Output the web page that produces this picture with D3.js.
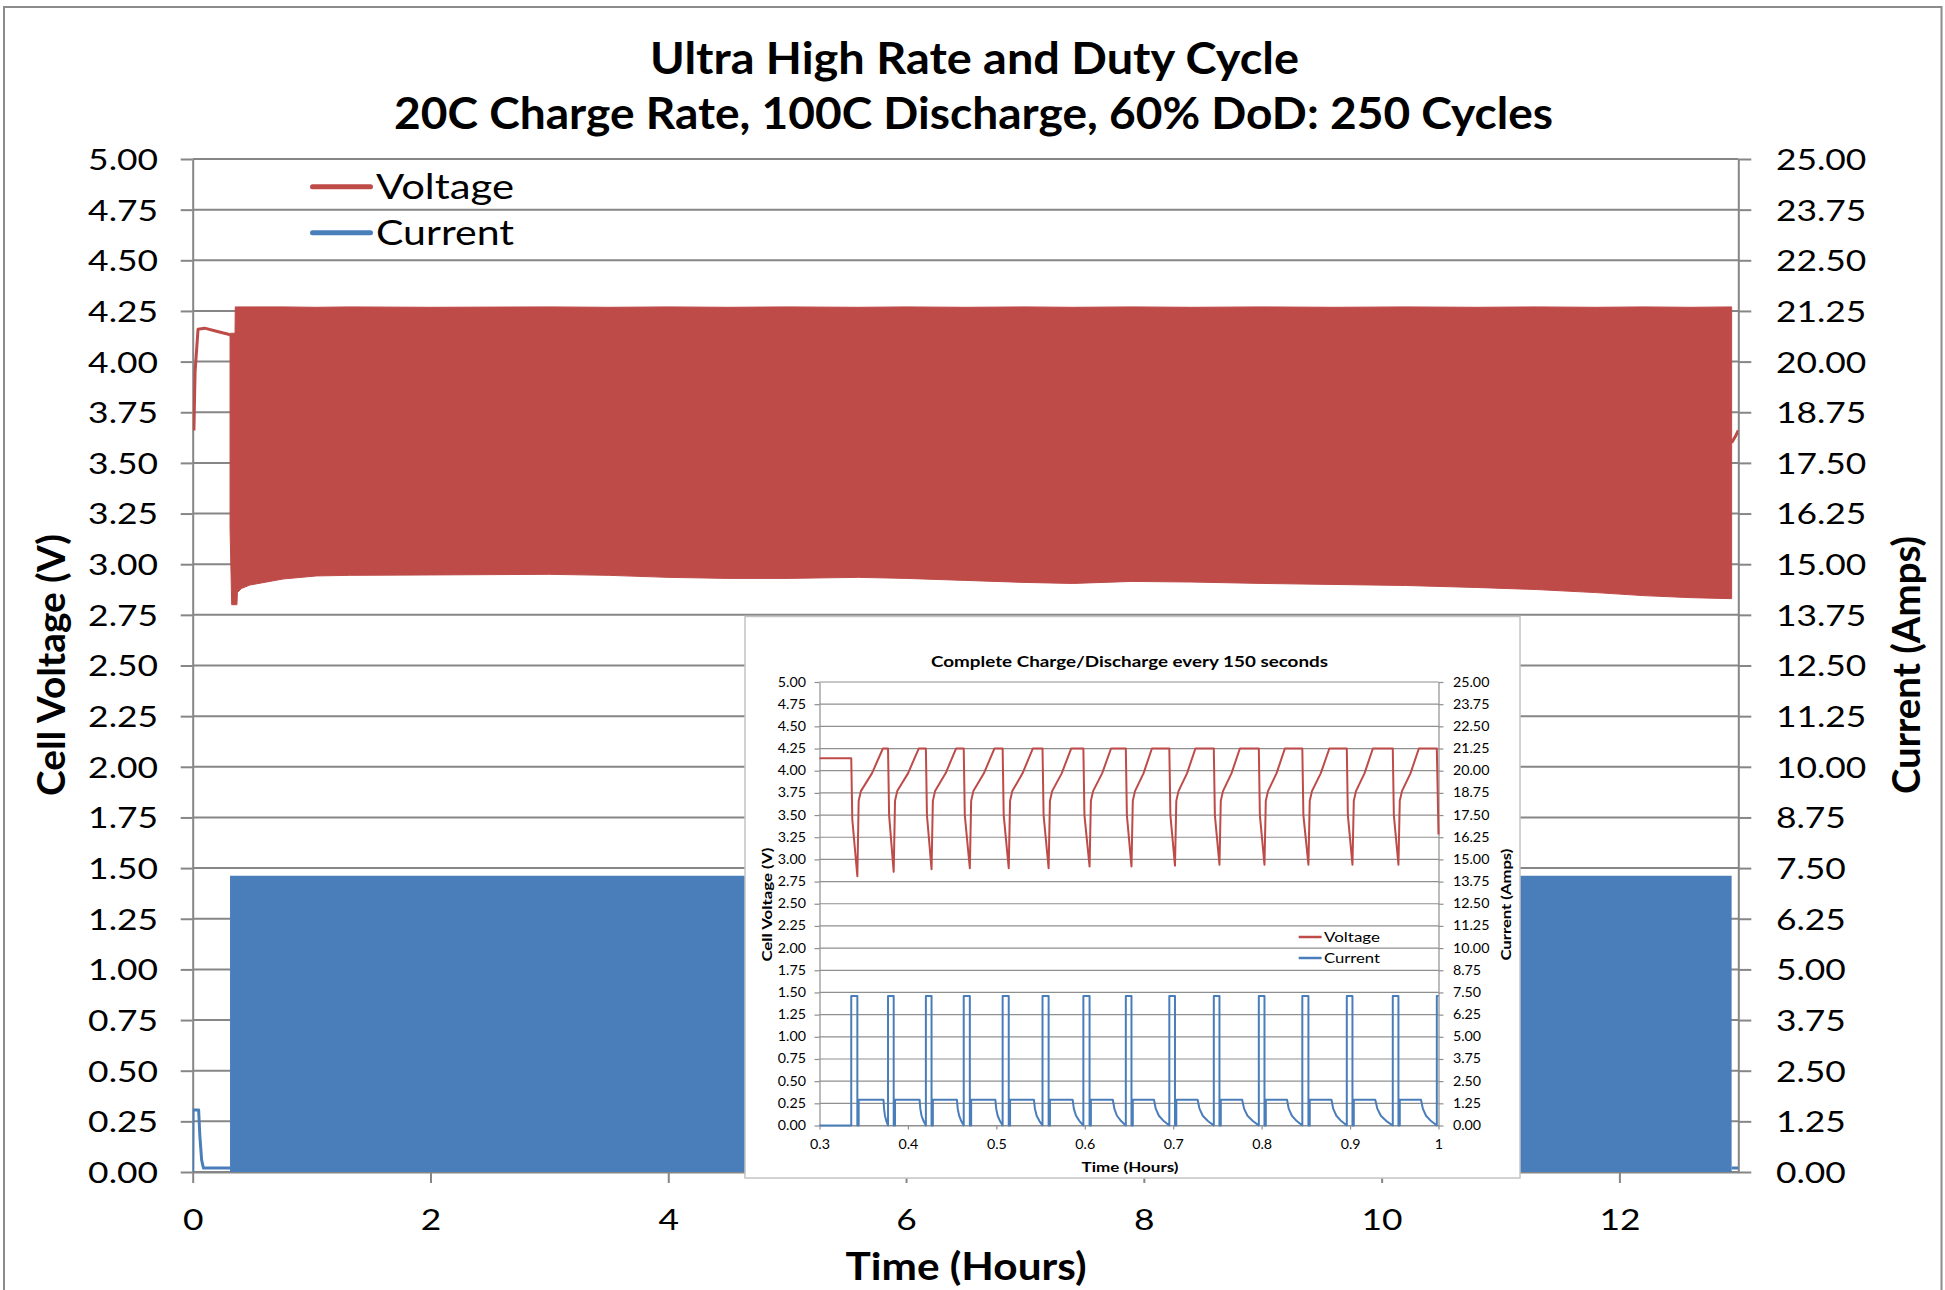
<!DOCTYPE html>
<html>
<head>
<meta charset="utf-8">
<script src="https://cdn.jsdelivr.net/npm/d3@7"></script>
<style>
  html, body { margin: 0; padding: 0; background: #fff; }
  svg { display: block; }
  text { font-family: Lato, "Open Sans", sans-serif; fill: #000; }
</style>
</head>
<body>
<svg id="chart" width="1945" height="1290"></svg>
<script>
// ---------------- data ----------------
// axis ticks
const hourTicks = [0, 2, 4, 6, 8, 10, 12];
const voltTicks = [0, 0.25, 0.5, 0.75, 1, 1.25, 1.5, 1.75, 2, 2.25, 2.5, 2.75, 3, 3.25, 3.5, 3.75, 4, 4.25, 4.5, 4.75, 5];
const voltTickLabels = ["0.00","0.25","0.50","0.75","1.00","1.25","1.50","1.75","2.00","2.25","2.50","2.75","3.00","3.25","3.50","3.75","4.00","4.25","4.50","4.75","5.00"];
const ampTicks = [0, 1.25, 2.5, 3.75, 5, 6.25, 7.5, 8.75, 10, 11.25, 12.5, 13.75, 15, 16.25, 17.5, 18.75, 20, 21.25, 22.5, 23.75, 25];
const ampTickLabels = ["0.00","1.25","2.50","3.75","5.00","6.25","7.50","8.75","10.00","11.25","12.50","13.75","15.00","16.25","17.50","18.75","20.00","21.25","22.50","23.75","25.00"];
const zoomHourTicks = [0.3, 0.4, 0.5, 0.6, 0.7, 0.8, 0.9, 1.0];
const zoomHourLabels = ["0.3","0.4","0.5","0.6","0.7","0.8","0.9","1"];

// initial rest / top-up before cycling starts (hours, V)
const restTime = [0.010, 0.020, 0.045, 0.100, 0.200, 0.300, 0.314];
const restVolt = [3.66, 3.95, 4.16, 4.165, 4.15, 4.135, 4.13];
// initial current (hours, A)
const restCurrTime = [0.000, 0.003, 0.050, 0.060, 0.075, 0.090, 0.314];
const restCurr = [0.00, 1.53, 1.53, 0.90, 0.30, 0.10, 0.10];

// cycling block: voltage peak and trough envelope (hours, V)
const cycTime = [0.314, 0.328, 0.356, 0.358, 0.372, 0.376, 0.41, 0.48, 0.76, 1.04, 1.32, 2.0, 3.0, 3.5, 4.0, 4.5, 5.0, 5.6, 6.0, 6.5, 7.0, 7.4, 7.9, 8.4, 9.0, 9.6, 10.2, 10.8, 11.3, 11.8, 12.2, 12.6, 12.944];
const cycVoltHigh = [4.14, 4.14, 4.14, 4.27, 4.27, 4.27, 4.27, 4.27, 4.27, 4.268, 4.27, 4.268, 4.27, 4.268, 4.27, 4.268, 4.27, 4.268, 4.27, 4.268, 4.27, 4.268, 4.27, 4.268, 4.27, 4.268, 4.27, 4.268, 4.27, 4.268, 4.27, 4.268, 4.27];
const cycVoltLow = [3.18, 2.80, 2.80, 2.80, 2.80, 2.86, 2.88, 2.897, 2.927, 2.942, 2.945, 2.947, 2.95, 2.945, 2.935, 2.93, 2.93, 2.935, 2.93, 2.92, 2.91, 2.905, 2.915, 2.912, 2.905, 2.90, 2.895, 2.885, 2.875, 2.86, 2.845, 2.835, 2.83];
// cycling block: discharge pulse current (hours, A)
const cycCurrTime = [0.314, 12.944];
const cycCurrHigh = [7.31, 7.31];

// after the last cycle (hours, V / A)
const tailTime = [12.944, 12.975, 13.0];
const tailVolt = [3.60, 3.63, 3.66];
const tailCurr = [0.10, 0.10, 0.10];

// detail: first 0.7 hours, complete charge/discharge every ~150 s  [hours, V]
const detailVoltage = [
 [0.3000,4.14],[0.3359,4.14],[0.3371,3.45],[0.3428,2.81],[0.3443,3.66],[0.3468,3.77],[0.3593,3.97],[0.3717,4.25],
 [0.3775,4.25],[0.3787,3.50],[0.3839,2.86],[0.3854,3.66],[0.3879,3.77],[0.4001,3.97],[0.4122,4.25],
 [0.4203,4.25],[0.4215,3.50],[0.4267,2.89],[0.4282,3.66],[0.4307,3.77],[0.4426,3.97],[0.4544,4.25],
 [0.4631,4.25],[0.4643,3.50],[0.4700,2.90],[0.4715,3.66],[0.4740,3.77],[0.4859,3.97],[0.4978,4.25],
 [0.5071,4.25],[0.5083,3.50],[0.5140,2.90],[0.5155,3.66],[0.5180,3.77],[0.5296,3.97],[0.5412,4.25],
 [0.5522,4.25],[0.5534,3.50],[0.5591,2.90],[0.5606,3.66],[0.5631,3.77],[0.5739,3.97],[0.5846,4.25],
 [0.5984,4.25],[0.5996,3.50],[0.6054,2.92],[0.6069,3.66],[0.6094,3.77],[0.6196,3.97],[0.6297,4.25],
 [0.6464,4.25],[0.6476,3.50],[0.6528,2.92],[0.6543,3.66],[0.6568,3.77],[0.6664,3.97],[0.6759,4.25],
 [0.6956,4.25],[0.6968,3.50],[0.7020,2.93],[0.7035,3.66],[0.7060,3.77],[0.7156,3.97],[0.7251,4.25],
 [0.7459,4.25],[0.7471,3.50],[0.7523,2.94],[0.7538,3.66],[0.7563,3.77],[0.7659,3.97],[0.7754,4.25],
 [0.7968,4.25],[0.7980,3.50],[0.8032,2.94],[0.8047,3.66],[0.8072,3.77],[0.8168,3.97],[0.8263,4.25],
 [0.8460,4.25],[0.8472,3.50],[0.8529,2.94],[0.8544,3.66],[0.8569,3.77],[0.8668,3.97],[0.8766,4.25],
 [0.8963,4.25],[0.8975,3.50],[0.9027,2.94],[0.9042,3.66],[0.9067,3.77],[0.9163,3.97],[0.9258,4.25],
 [0.9483,4.25],[0.9495,3.50],[0.9547,2.94],[0.9562,3.66],[0.9587,3.77],[0.9683,3.97],[0.9778,4.25],
 [0.9981,4.25],[1.0000,3.28]
];
// detail current [hours, A]
const detailCurrent = [
 [0.3000,0],[0.3359,0],[0.3359,7.3],[0.3428,7.3],[0.3428,0],[0.3443,0],[0.3443,1.45],[0.3724,1.45],[0.3730,0.95],[0.3740,0.55],[0.3756,0.25],[0.3775,0],
 [0.3775,7.3],[0.3839,7.3],[0.3839,0],[0.3854,0],[0.3854,1.45],[0.4132,1.45],[0.4140,0.95],[0.4154,0.55],[0.4177,0.25],[0.4203,0],
 [0.4203,7.3],[0.4267,7.3],[0.4267,0],[0.4282,0],[0.4282,1.45],[0.4554,1.45],[0.4563,0.95],[0.4579,0.55],[0.4603,0.25],[0.4631,0],
 [0.4631,7.3],[0.4700,7.3],[0.4700,0],[0.4715,0],[0.4715,1.45],[0.4989,1.45],[0.4998,0.95],[0.5015,0.55],[0.5041,0.25],[0.5071,0],
 [0.5071,7.3],[0.5140,7.3],[0.5140,0],[0.5155,0],[0.5155,1.45],[0.5425,1.45],[0.5436,0.95],[0.5456,0.55],[0.5487,0.25],[0.5522,0],
 [0.5522,7.3],[0.5591,7.3],[0.5591,0],[0.5606,0],[0.5606,1.45],[0.5863,1.45],[0.5876,0.95],[0.5901,0.55],[0.5940,0.25],[0.5984,0],
 [0.5984,7.3],[0.6054,7.3],[0.6054,0],[0.6069,0],[0.6069,1.45],[0.6317,1.45],[0.6334,0.95],[0.6364,0.55],[0.6411,0.25],[0.6464,0],
 [0.6464,7.3],[0.6528,7.3],[0.6528,0],[0.6543,0],[0.6543,1.45],[0.6783,1.45],[0.6802,0.95],[0.6838,0.55],[0.6893,0.25],[0.6956,0],
 [0.6956,7.3],[0.7020,7.3],[0.7020,0],[0.7035,0],[0.7035,1.45],[0.7276,1.45],[0.7297,0.95],[0.7334,0.55],[0.7392,0.25],[0.7459,0],
 [0.7459,7.3],[0.7523,7.3],[0.7523,0],[0.7538,0],[0.7538,1.45],[0.7780,1.45],[0.7801,0.95],[0.7840,0.55],[0.7900,0.25],[0.7968,0],
 [0.7968,7.3],[0.8032,7.3],[0.8032,0],[0.8047,0],[0.8047,1.45],[0.8287,1.45],[0.8306,0.95],[0.8342,0.55],[0.8397,0.25],[0.8460,0],
 [0.8460,7.3],[0.8529,7.3],[0.8529,0],[0.8544,0],[0.8544,1.45],[0.8790,1.45],[0.8809,0.95],[0.8845,0.55],[0.8900,0.25],[0.8963,0],
 [0.8963,7.3],[0.9027,7.3],[0.9027,0],[0.9042,0],[0.9042,1.45],[0.9285,1.45],[0.9308,0.95],[0.9348,0.55],[0.9411,0.25],[0.9483,0],
 [0.9483,7.3],[0.9547,7.3],[0.9547,0],[0.9562,0],[0.9562,1.45],[0.9802,1.45],[0.9823,0.95],[0.9859,0.55],[0.9916,0.25],[0.9981,0],
 [0.9981,7.3],[1.0000,7.3]
];

// ---------------- layout & style ----------------
const RED = "#BE4B48", BLUE = "#4A7EBB", GRID = "#868686";
const TICK_STRETCH = 1.22;
const svg = d3.select("#chart");

// stretch text horizontally about its anchor point
function stretch(sel, s) {
  sel.each(function () {
    const t = d3.select(this);
    const x = +(t.attr("x") || 0);
    t.attr("transform", `translate(${x},0) scale(${s},1) translate(${-x},0)`);
  });
}

function styleAxis(g, size, color) {
  g.selectAll("path.domain").attr("stroke", color).attr("stroke-width", size.line);
  g.selectAll(".tick line").attr("stroke", color).attr("stroke-width", size.line);
  g.selectAll(".tick text")
    .attr("fill", "#000")
    .style("font-family", "Lato, 'Open Sans', sans-serif")
    .style("font-size", size.font + "px");
}

// outer chart frame
svg.append("rect")
  .attr("x", 4).attr("y", 7).attr("width", 1937.5).attr("height", 1300)
  .attr("fill", "#fff").attr("stroke", "#8c8c8c").attr("stroke-width", 2);

// ---------------- main chart ----------------
const P = { left: 192.7, right: 1738.3, top: 159, bottom: 1172 };
const x = d3.scaleLinear().domain([0, 13]).range([P.left, P.right]);
const yV = d3.scaleLinear().domain([0, 5]).range([P.bottom, P.top]);
const yA = d3.scaleLinear().domain([0, 25]).range([P.bottom, P.top]);

// gridlines
svg.append("g").selectAll("line").data(voltTicks).join("line")
  .attr("x1", P.left).attr("x2", P.right)
  .attr("y1", d => yV(d)).attr("y2", d => yV(d))
  .attr("stroke", GRID).attr("stroke-width", 2);

// axes
const gL = svg.append("g").attr("transform", `translate(${P.left},0)`)
  .call(d3.axisLeft(yV).tickValues(voltTicks).tickFormat((d, i) => voltTickLabels[i])
    .tickSizeInner(12).tickSizeOuter(0).tickPadding(22.7));
styleAxis(gL, { line: 2, font: 29 }, GRID);
gL.selectAll(".tick text").attr("dy", "0.36em");
stretch(gL.selectAll(".tick text"), TICK_STRETCH);

const gR = svg.append("g").attr("transform", `translate(${P.right},0)`)
  .call(d3.axisRight(yA).tickValues(ampTicks).tickFormat((d, i) => ampTickLabels[i])
    .tickSizeInner(13).tickSizeOuter(0).tickPadding(24.7));
styleAxis(gR, { line: 2, font: 29 }, GRID);
gR.selectAll(".tick text").attr("dy", "0.36em");
stretch(gR.selectAll(".tick text"), TICK_STRETCH);

const gB = svg.append("g").attr("transform", `translate(0,${P.bottom})`)
  .call(d3.axisBottom(x).tickValues(hourTicks).tickFormat(d3.format("d"))
    .tickSizeInner(11).tickSizeOuter(0).tickPadding(26.4));
styleAxis(gB, { line: 2, font: 29 }, GRID);
stretch(gB.selectAll(".tick text"), TICK_STRETCH);

// data
svg.append("defs").append("clipPath").attr("id", "clipMain")
  .append("rect").attr("x", P.left).attr("y", P.top)
  .attr("width", P.right - P.left).attr("height", P.bottom - P.top + 1);
const gData = svg.append("g").attr("clip-path", "url(#clipMain)");

const band = d3.area()
  .x((d, i) => x(cycTime[i]))
  .y0((d, i) => yV(cycVoltLow[i]))
  .y1((d, i) => yV(cycVoltHigh[i]));
gData.append("path").datum(cycTime).attr("d", band).attr("fill", RED)
  .attr("stroke", RED).attr("stroke-width", 1);

const lineV = d3.line().x(d => x(d[0])).y(d => yV(d[1]));
const lineA = d3.line().x(d => x(d[0])).y(d => yA(d[1]));
gData.append("path").datum(restTime.map((t, i) => [t, restVolt[i]]))
  .attr("d", lineV).attr("fill", "none").attr("stroke", RED).attr("stroke-width", 3)
  .attr("stroke-linejoin", "round");
gData.append("path").datum(tailTime.map((t, i) => [t, tailVolt[i]]))
  .attr("d", lineV).attr("fill", "none").attr("stroke", RED).attr("stroke-width", 3);

const block = d3.area()
  .x((d, i) => x(cycCurrTime[i]))
  .y0(yA(0))
  .y1((d, i) => yA(cycCurrHigh[i]));
gData.append("path").datum(cycCurrTime).attr("d", block).attr("fill", BLUE);
gData.append("path").datum(restCurrTime.map((t, i) => [t, restCurr[i]]))
  .attr("d", lineA).attr("fill", "none").attr("stroke", BLUE).attr("stroke-width", 3)
  .attr("stroke-linejoin", "round");
gData.append("path").datum(tailTime.map((t, i) => [t, tailCurr[i]]))
  .attr("d", lineA).attr("fill", "none").attr("stroke", BLUE).attr("stroke-width", 3);

// titles
const title = svg.append("g").style("font-weight", "bold").style("font-size", "44px");
title.append("text").attr("x", 974.5).attr("y", 74).attr("text-anchor", "middle")
  .attr("textLength", 649).attr("lengthAdjust", "spacingAndGlyphs")
  .text("Ultra High Rate and Duty Cycle");
title.append("text").attr("x", 973.6).attr("y", 128.5).attr("text-anchor", "middle")
  .attr("textLength", 1159).attr("lengthAdjust", "spacingAndGlyphs")
  .text("20C Charge Rate, 100C Discharge, 60% DoD: 250 Cycles");

svg.append("text").attr("x", 966).attr("y", 1280).attr("text-anchor", "middle")
  .style("font-weight", "bold").style("font-size", "38px")
  .attr("textLength", 241).attr("lengthAdjust", "spacingAndGlyphs")
  .text("Time (Hours)");
svg.append("text").attr("transform", "translate(65,665) rotate(-90)").attr("text-anchor", "middle")
  .style("font-weight", "bold").style("font-size", "38px")
  .attr("textLength", 262).attr("lengthAdjust", "spacingAndGlyphs")
  .text("Cell Voltage (V)");
svg.append("text").attr("transform", "translate(1920,665) rotate(-90)").attr("text-anchor", "middle")
  .style("font-weight", "bold").style("font-size", "38px")
  .attr("textLength", 258).attr("lengthAdjust", "spacingAndGlyphs")
  .text("Current (Amps)");

// legend
const legendItems = [
  { name: "Voltage", color: RED, y: 186.7 },
  { name: "Current", color: BLUE, y: 232.7 }
];
const lg = svg.append("g");
lg.selectAll("line").data(legendItems).join("line")
  .attr("x1", 312.5).attr("x2", 370.5).attr("y1", d => d.y).attr("y2", d => d.y)
  .attr("stroke", d => d.color).attr("stroke-width", 5).attr("stroke-linecap", "round");
lg.selectAll("text").data(legendItems).join("text")
  .attr("x", 376).attr("y", d => d.y + 11.8)
  .style("font-size", "35px")
  .attr("textLength", 138).attr("lengthAdjust", "spacingAndGlyphs")
  .text(d => d.name);

// ---------------- detail chart ----------------
const B = { x: 745, y: 616.5, w: 775, h: 561.5 };
const Q = { left: 819.5, right: 1438.5, top: 682, bottom: 1125.5 };
const ix = d3.scaleLinear().domain([0.3, 1.0]).range([Q.left, Q.right]);
const iyV = d3.scaleLinear().domain([0, 5]).range([Q.bottom, Q.top]);
const iyA = d3.scaleLinear().domain([0, 25]).range([Q.bottom, Q.top]);
const IGRID = "#8f8f8f";
const inset = svg.append("g");

inset.append("rect").attr("x", B.x).attr("y", B.y).attr("width", B.w).attr("height", B.h)
  .attr("fill", "#fff").attr("stroke", "#c4c4c4").attr("stroke-width", 1.5);

inset.append("g").selectAll("line").data(voltTicks).join("line")
  .attr("x1", Q.left).attr("x2", Q.right)
  .attr("y1", d => iyV(d)).attr("y2", d => iyV(d))
  .attr("stroke", IGRID).attr("stroke-width", 1.2);

const iL = inset.append("g").attr("transform", `translate(${Q.left},0)`)
  .call(d3.axisLeft(iyV).tickValues(voltTicks).tickFormat((d, i) => voltTickLabels[i])
    .tickSizeInner(5).tickSizeOuter(0).tickPadding(8.5));
styleAxis(iL, { line: 1.2, font: 12.5 }, IGRID);
stretch(iL.selectAll(".tick text"), 1.14);

const iR = inset.append("g").attr("transform", `translate(${Q.right},0)`)
  .call(d3.axisRight(iyA).tickValues(ampTicks).tickFormat((d, i) => ampTickLabels[i])
    .tickSizeInner(5).tickSizeOuter(0).tickPadding(9.5));
styleAxis(iR, { line: 1.2, font: 12.5 }, IGRID);
stretch(iR.selectAll(".tick text"), 1.14);

const iB = inset.append("g").attr("transform", `translate(0,${Q.bottom})`)
  .call(d3.axisBottom(ix).tickValues(zoomHourTicks).tickFormat((d, i) => zoomHourLabels[i])
    .tickSizeInner(4).tickSizeOuter(0).tickPadding(11));
styleAxis(iB, { line: 1.2, font: 12.5 }, IGRID);
stretch(iB.selectAll(".tick text"), 1.14);

const ilineV = d3.line().x(d => ix(d[0])).y(d => iyV(d[1]));
const ilineA = d3.line().x(d => ix(d[0])).y(d => iyA(d[1]));
inset.append("path").datum(detailVoltage).attr("d", ilineV)
  .attr("fill", "none").attr("stroke", RED).attr("stroke-width", 2).attr("stroke-linejoin", "round");
inset.append("path").datum(detailCurrent).attr("d", ilineA)
  .attr("fill", "none").attr("stroke", BLUE).attr("stroke-width", 2).attr("stroke-linejoin", "round");

inset.append("text").attr("x", 1129.5).attr("y", 667).attr("text-anchor", "middle")
  .style("font-weight", "bold").style("font-size", "16px")
  .attr("textLength", 397).attr("lengthAdjust", "spacingAndGlyphs")
  .text("Complete Charge/Discharge every 150 seconds");
inset.append("text").attr("x", 1130).attr("y", 1172).attr("text-anchor", "middle")
  .style("font-weight", "bold").style("font-size", "13.5px")
  .attr("textLength", 97).attr("lengthAdjust", "spacingAndGlyphs")
  .text("Time (Hours)");
inset.append("text").attr("transform", "translate(771.5,904.6) rotate(-90)").attr("text-anchor", "middle")
  .style("font-weight", "bold").style("font-size", "13.5px")
  .attr("textLength", 114).attr("lengthAdjust", "spacingAndGlyphs")
  .text("Cell Voltage (V)");
inset.append("text").attr("transform", "translate(1511,904.6) rotate(-90)").attr("text-anchor", "middle")
  .style("font-weight", "bold").style("font-size", "13.5px")
  .attr("textLength", 112).attr("lengthAdjust", "spacingAndGlyphs")
  .text("Current (Amps)");

const ilegend = [
  { name: "Voltage", color: RED, y: 937 },
  { name: "Current", color: BLUE, y: 958 }
];
inset.append("g").selectAll("line").data(ilegend).join("line")
  .attr("x1", 1298.7).attr("x2", 1321.6).attr("y1", d => d.y).attr("y2", d => d.y)
  .attr("stroke", d => d.color).attr("stroke-width", 2.5);
inset.append("g").selectAll("text").data(ilegend).join("text")
  .attr("x", 1324).attr("y", d => d.y + 4.8)
  .style("font-size", "13.5px")
  .attr("textLength", 56).attr("lengthAdjust", "spacingAndGlyphs")
  .text(d => d.name);
</script>
</body>
</html>
